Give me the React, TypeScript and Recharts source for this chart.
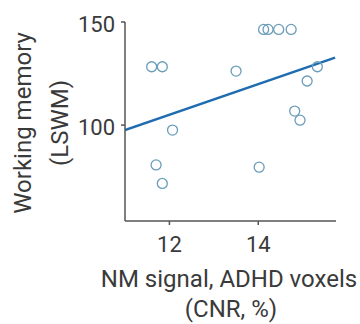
import { ComposedChart, Scatter, Line, XAxis, YAxis, Label } from "recharts";

// NM signal (CNR, %) per subject
const cnr = [11.6, 11.84, 13.5, 14.12, 14.22, 14.46, 14.74, 15.33, 15.1, 14.82, 14.94, 12.07, 11.7, 11.84, 14.02];
// working memory score (LSWM)
const lswm = [128.3, 128.3, 126.2, 146.4, 146.4, 146.4, 146.4, 128.3, 121.4, 106.8, 102.4, 97.6, 80.7, 71.7, 79.6];

// fitted line end points
const fitX = [11.0, 15.73];
const fitY = [97.6, 132.7];

const xTicks = [12, 14];
const yTicks = [100, 150];

const points = cnr.map((x, i) => ({ x, y: lswm[i] }));
const fit = fitX.map((x, i) => ({ x, y: fitY[i] }));

const FONT = "Roboto, 'Noto Sans', sans-serif";
const TEXT = "#3a3a3a";
const AXIS = "#555";

const Ring = (props: any) => (
  <circle cx={props.cx} cy={props.cy} r={5} fill="none" stroke="#6b9db8" strokeWidth={1.3} />
);

export default function App() {
  return (
    <div style={{ position: "absolute", left: 0, top: 0, background: "#fff" }}>
      <ComposedChart
        width={360}
        height={324}
        margin={{ top: 22, right: 24, bottom: 0, left: 0 }}
        style={{ fontFamily: FONT }}
      >
        <XAxis
          type="number"
          dataKey="x"
          domain={[11, 15.75]}
          ticks={xTicks}
          allowDataOverflow
          height={103}
          stroke={AXIS}
          strokeWidth={1.5}
          tickSize={4}
          tick={{ fill: TEXT, fontSize: 22, dy: 9 }}
        >
          <Label
            content={() => (
              <g fill={TEXT} fontSize={24} fontFamily={FONT} textAnchor="middle">
                <text x={229} y={287}>NM signal, ADHD voxels</text>
                <text x={231} y={317}>(CNR, %)</text>
              </g>
            )}
          />
        </XAxis>
        <YAxis
          type="number"
          dataKey="y"
          domain={[53.5, 150]}
          ticks={yTicks}
          allowDataOverflow
          width={125}
          stroke={AXIS}
          strokeWidth={1.5}
          tickSize={4}
          tick={{ fill: TEXT, fontSize: 22, dx: -4, dy: 2 }}
        >
          <Label
            content={() => (
              <g fill={TEXT} fontSize={24} fontFamily={FONT} textAnchor="middle">
                <text x={31} y={123} transform="rotate(-90 31 123)">Working memory</text>
                <text x={68} y={123} transform="rotate(-90 68 123)">(LSWM)</text>
              </g>
            )}
          />
        </YAxis>
        <Scatter data={points} shape={Ring} isAnimationActive={false} />
        <Line
          data={fit}
          dataKey="y"
          stroke="#1f6db0"
          strokeWidth={2.5}
          dot={false}
          activeDot={false}
          isAnimationActive={false}
        />
      </ComposedChart>
    </div>
  );
}
